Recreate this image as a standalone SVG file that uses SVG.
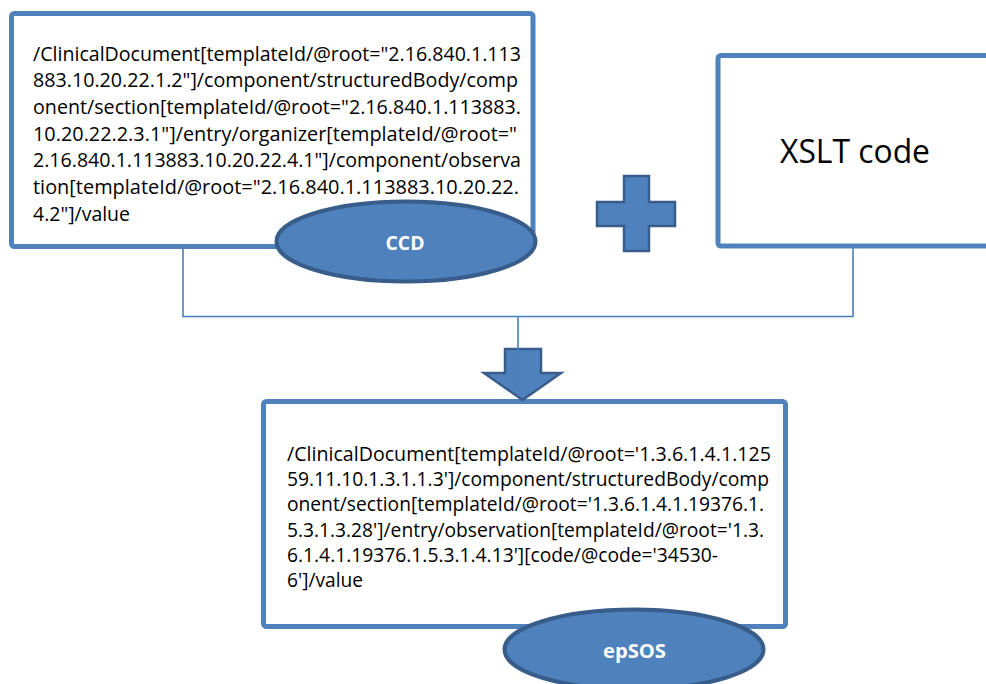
<svg xmlns="http://www.w3.org/2000/svg" width="986" height="684" viewBox="0 0 986 684">
  <style>
    .box { fill: #ffffff; stroke: #4f81bd; stroke-width: 5; }
    .badge { fill: #4f81bd; stroke: #385d8a; stroke-width: 4; }
    .shape { fill: #4f81bd; stroke: #385d8a; stroke-width: 2.5; stroke-linejoin: miter; }
    .path { font-family: "Open Sans", "Liberation Sans", sans-serif; font-size: 19.5px; fill: #000000; }
    .title { font-family: "Open Sans", "Liberation Sans", sans-serif; font-size: 32.5px; fill: #000000; }
    .label { font-family: "Open Sans", "Liberation Sans", sans-serif; font-size: 19.5px; font-weight: bold; fill: #ffffff; text-anchor: middle; }
    .wire { fill: none; stroke: #4a7ebb; stroke-width: 1.6; }
  </style>
  <rect width="986" height="684" fill="#ffffff"/>

  <!-- lines joining the two inputs and feeding the result -->
  <g id="connectors">
    <path class="wire" d="M183 248 V316.5 H853 V248"/>
  </g>

  <g id="ccd">
    <rect class="box" x="11.5" y="13.5" width="521.5" height="233" rx="3"/>
    <text class="path" x="33" y="60.5" textLength="488" lengthAdjust="spacingAndGlyphs">/ClinicalDocument[templateId/@root="2.16.840.1.113</text>
    <text class="path" x="33" y="87.2" textLength="485" lengthAdjust="spacingAndGlyphs">883.10.20.22.1.2"]/component/structuredBody/comp</text>
    <text class="path" x="33" y="113.9" textLength="488" lengthAdjust="spacingAndGlyphs">onent/section[templateId/@root="2.16.840.1.113883.</text>
    <text class="path" x="33" y="140.6" textLength="484" lengthAdjust="spacingAndGlyphs">10.20.22.2.3.1"]/entry/organizer[templateId/@root="</text>
    <text class="path" x="33" y="167.3" textLength="488" lengthAdjust="spacingAndGlyphs">2.16.840.1.113883.10.20.22.4.1"]/component/observa</text>
    <text class="path" x="33" y="194" textLength="486" lengthAdjust="spacingAndGlyphs">tion[templateId/@root="2.16.840.1.113883.10.20.22.</text>
    <text class="path" x="33" y="220.7" textLength="97" lengthAdjust="spacingAndGlyphs">4.2"]/value</text>
  </g>

  <g id="ccd-badge">
    <ellipse class="badge" cx="406" cy="241.5" rx="129.5" ry="40"/>
    <text class="label" x="405" y="249.5" textLength="39" lengthAdjust="spacingAndGlyphs">CCD</text>
  </g>

  <g id="plus">
    <polygon class="shape" points="624,176 649,176 649,202 675,202 675,226 649,226 649,251 624,251 624,226 597,226 597,202 624,202"/>
  </g>

  <g id="xslt">
    <rect class="box" x="718" y="55.5" width="300" height="190.5" rx="3"/>
    <text class="title" x="780" y="163" textLength="150" lengthAdjust="spacingAndGlyphs">XSLT code</text>
  </g>

  <g id="epsos">
    <rect class="box" x="263.5" y="401.5" width="522" height="225" rx="3"/>
    <text class="path" x="287" y="461" textLength="484" lengthAdjust="spacingAndGlyphs">/ClinicalDocument[templateId/@root='1.3.6.1.4.1.125</text>
    <text class="path" x="287" y="486.2" textLength="482" lengthAdjust="spacingAndGlyphs">59.11.10.1.3.1.1.3']/component/structuredBody/comp</text>
    <text class="path" x="287" y="511.4" textLength="477" lengthAdjust="spacingAndGlyphs">onent/section[templateId/@root='1.3.6.1.4.1.19376.1.</text>
    <text class="path" x="287" y="536.6" textLength="477" lengthAdjust="spacingAndGlyphs">5.3.1.3.28']/entry/observation[templateId/@root='1.3.</text>
    <text class="path" x="287" y="561.8" textLength="431" lengthAdjust="spacingAndGlyphs">6.1.4.1.19376.1.5.3.1.4.13'][code/@code='34530-</text>
    <text class="path" x="287" y="587" textLength="76" lengthAdjust="spacingAndGlyphs">6']/value</text>
  </g>

  <g id="epsos-badge">
    <ellipse class="badge" cx="634" cy="649.5" rx="129.5" ry="40"/>
    <text class="label" x="634.5" y="658" textLength="63" lengthAdjust="spacingAndGlyphs">epSOS</text>
  </g>

  <g id="down-arrow">
    <polygon class="shape" stroke-width="3" points="505,349 541,349 541,373 561,373 522.5,400 484,373 505,373"/>
  </g>

  <g id="feed">
    <path class="wire" d="M518 316.5 V396"/>
  </g>
</svg>
